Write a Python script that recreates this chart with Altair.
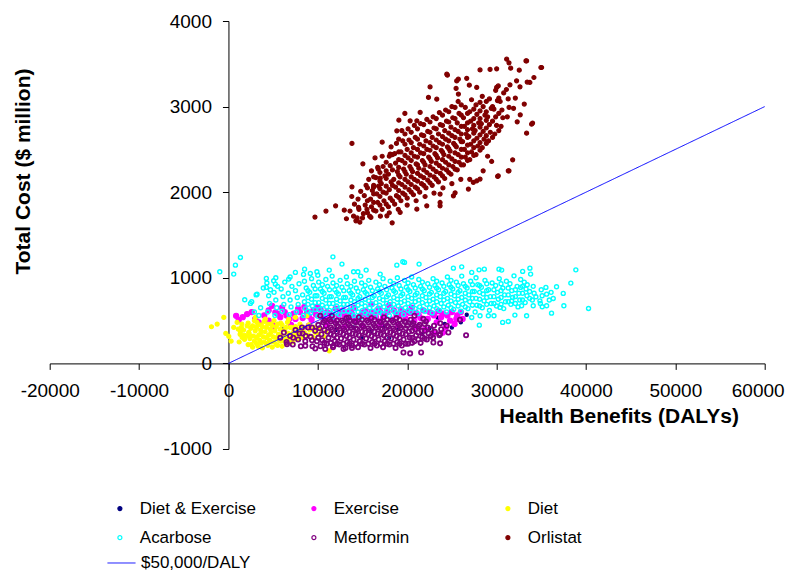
import altair as alt
import pandas as pd

FONT = "Liberation Sans"

SERIES = ["Diet & Exercise", "Exercise", "Diet", "Acarbose", "Metformin", "Orlistat"]
STROKES = ["#000080", "#FF00FF", "#FFFF00", "#00FFFF", "#800080", "#800000"]
FILLS = ["#000080", "#FF00FF", "#FFFF00", "transparent", "transparent", "#800000"]
SIZES = [10, 26, 16, 16, 18, 16]
STROKE_WIDTHS = [1.2, 1.2, 1.2, 1.4, 1.8, 1.2]

X_TICKS = [-20000, -10000, 0, 10000, 20000, 30000, 40000, 50000, 60000]
Y_TICKS = [-1000, 0, 1000, 2000, 3000, 4000]

LINE_LABEL = "$50,000/DALY"
LINE_X = [0, 60000]
LINE_Y = [0, 3000]

DIET_EXERCISE = [
    (6000, 400), (8000, 380), (10000, 410), (12000, 390), (14000, 420), (16000, 380),
    (17500, 430), (19000, 400), (20500, 480), (21630, 342), (22500, 410), (23420, 533),
    (24200, 460), (25000, 420), (26000, 480), (26660, 568), (18000, 300), (15000, 300),
]

EXERCISE = [
    (860, 556), (1150, 509), (2090, 576), (4880, 673), (5250, 596), (3390, 479), (1600, 540),
    (2600, 600), (3000, 520), (4000, 560), (4500, 620), (5800, 540), (6300, 600), (6800, 520),
    (7300, 580), (7800, 640), (8300, 530), (8800, 590), (9300, 510), (9800, 570), (10300, 630),
    (10800, 520), (11300, 580), (11800, 500), (12300, 560), (12800, 620), (13300, 520),
    (13800, 580), (14300, 500), (14800, 560), (15300, 610), (15800, 520), (16300, 580),
    (16800, 640), (17300, 540), (17800, 600), (18300, 510), (18800, 570), (19300, 630),
    (19800, 530), (20300, 590), (20800, 500), (21300, 560), (21800, 620), (22300, 520),
    (22800, 580), (23300, 480), (23800, 540), (24300, 420), (24800, 500), (25300, 460),
    (22000, 400), (23000, 350), (24000, 360), (21000, 420), (19000, 450), (17000, 460),
    (15000, 440), (13000, 430), (11000, 450), (9000, 440), (7000, 450), (5000, 440),
    (25600, 560), (26200, 520), (6000, 650), (10000, 660), (12000, 640), (14000, 650),
    (18000, 680), (20500, 650), (16000, 690), (8500, 660),
    (4500, 500), (5500, 580), (6500, 560), (7500, 520), (8000, 600), (9000, 550), (9500, 620),
    (10500, 560), (11000, 600), (11500, 530), (12500, 600), (13000, 560), (13500, 610),
    (14000, 540), (15000, 590), (15500, 560), (16000, 600), (16500, 540), (17000, 600),
    (17500, 570), (18500, 620), (19000, 560), (19500, 580), (20000, 600), (21000, 590),
    (21500, 530), (22500, 600), (23000, 560), (23500, 610), (24000, 580), (24500, 560),
    (25000, 600), (25500, 520), (26000, 600),
]

DIET = [
    (-1900, 428), (-1260, 459), (-520, 537), (40, 315), (590, 420), (970, 479), (1530, 304),
    (1340, 369), (2090, 439), (2270, 362), (3020, 537), (3200, 479), (4130, 517), (6740, 517),
    (7490, 537), (8790, 556), (11280, 147), (-300, 350), (300, 260),
    (1100, 400), (1300, 340), (1500, 460), (1700, 390), (1800, 280), (1200, 250),
    (2200, 220), (2400, 290), (2300, 350), (2500, 410), (2200, 470),
    (2700, 190), (2900, 260), (2800, 320), (3000, 380), (2700, 440), (2900, 500),
    (3300, 200), (3500, 270), (3400, 330), (3600, 390), (3300, 450),
    (3800, 180), (4000, 250), (3900, 310), (4100, 370), (3800, 430), (4000, 490),
    (4400, 210), (4600, 270), (4500, 330), (4700, 400), (4400, 460),
    (4900, 190), (5100, 250), (5000, 310), (5200, 380), (4900, 440), (5100, 500),
    (5500, 210), (5700, 270), (5600, 340), (5800, 400), (5500, 460),
    (6000, 200), (6200, 260), (6100, 320), (6300, 390), (6000, 450),
    (6600, 230), (6800, 290), (6700, 350), (6900, 420), (6600, 480),
    (7200, 250), (7400, 310), (7300, 370), (7500, 430),
    (7700, 280), (7900, 340), (7800, 400), (8000, 460),
    (8300, 300), (8500, 360), (8400, 420), (8900, 330), (9100, 390), (9000, 450),
    (9500, 300), (9700, 360), (9600, 420), (10100, 340), (10300, 400), (10700, 310), (10900, 370),
    (2550, 320), (3150, 300), (3650, 360), (4250, 300), (4750, 360), (5350, 300), (5850, 330),
    (6450, 300), (7050, 340), (2550, 420), (3650, 240), (4750, 250), (5850, 260), (3150, 420),
    (4250, 420), (5350, 430), (6450, 420),
    (2550, 220), (3150, 230), (4250, 230), (5350, 220), (3650, 450), (4750, 460), (5850, 470),
    (6450, 240), (7050, 260), (7050, 420), (7650, 340), (8150, 380), (2050, 320), (1750, 330),
    (1450, 420),
]

ACARBOSE = [
    (-970, 1070), (590, 1043), (780, 1148), (1340, 1238), (11690, 1245), (1820, 743), (2460, 701),
    (3200, 809), (4240, 993), (5060, 965), (5250, 926), (4240, 888), (6740, 985), (7490, 1063),
    (8520, 1101), (9160, 1051), (9900, 1070), (11280, 1090), (12700, 1160), (14000, 1070),
    (14480, 1070), (15410, 1090), (16980, 1043), (18840, 1148), (19700, 1180), (19510, 1187),
    (21330, 1160), (25170, 1113), (26100, 1128), (27220, 1063), (28040, 1093), (28630, 1101),
    (30270, 1101), (30570, 1090), (31950, 1023), (32920, 1075), (33730, 1113), (33810, 1043),
    (38870, 1093), (38310, 938), (36710, 895), (37460, 818), (40290, 642), (37530, 673),
    (36340, 759), (36150, 587), (35600, 673), (35110, 661), (34400, 778), (35600, 809),
    (35520, 888), (33430, 918), (32690, 888), (33360, 556), (32800, 673), (32050, 564),
    (31310, 490), (30680, 479), (28070, 447), (29710, 556), (29080, 556), (28150, 556),
    (27220, 537), (31690, 731), (34100, 673), (34850, 731), (30380, 654),
    (2600, 720), (3100, 800), (3600, 650), (3900, 880), (2900, 600), (3400, 560),
    (4400, 600), (4600, 700), (4500, 790), (4700, 860), (4300, 940),
    (5200, 560), (5400, 650), (5300, 740), (5100, 830), (5500, 900), (5300, 1000),
    (6000, 610), (6200, 690), (6100, 780), (5900, 870), (6300, 950),
    (6800, 570), (7000, 660), (6900, 740), (6700, 820), (7100, 900), (6900, 1010),
    (7600, 600), (7800, 690), (7700, 770), (7500, 850), (7900, 930),
    (8400, 560), (8600, 640), (8500, 720), (8300, 800), (8700, 880), (8500, 960), (8400, 1040),
    (9200, 590), (9400, 670), (9300, 750), (9100, 830), (9500, 910), (9300, 990),
    (10000, 550), (10200, 630), (10100, 710), (9900, 790), (10300, 870), (10100, 950), (10000, 1030),
    (10800, 580), (11000, 660), (10900, 740), (10700, 820), (11100, 900), (10900, 980),
    (11600, 540), (11800, 620), (11700, 700), (11500, 780), (11900, 860), (11700, 940), (11600, 1020),
    (12400, 570), (12600, 650), (12500, 730), (12300, 810), (12700, 890), (12500, 970),
    (13200, 530), (13400, 610), (13300, 690), (13100, 770), (13500, 850), (13300, 930), (13200, 1010),
    (14000, 560), (14200, 640), (14100, 720), (13900, 800), (14300, 880), (14100, 960),
    (14800, 540), (15000, 620), (14900, 700), (14700, 780), (15100, 860), (14900, 940), (14800, 1020),
    (15600, 570), (15800, 650), (15700, 730), (15500, 810), (15900, 890), (15700, 970),
    (16400, 550), (16600, 630), (16500, 710), (16300, 790), (16700, 870), (16500, 950),
    (17200, 580), (17400, 660), (17300, 740), (17100, 820), (17500, 900), (17300, 990),
    (18000, 560), (18200, 640), (18100, 720), (17900, 800), (18300, 880), (18100, 960),
    (18800, 590), (19000, 670), (18900, 750), (18700, 830), (19100, 910), (18900, 1000),
    (19600, 570), (19800, 650), (19700, 730), (19500, 810), (19900, 890), (19700, 970),
    (20400, 600), (20600, 680), (20500, 760), (20300, 840), (20700, 920), (20500, 1010),
    (21200, 580), (21400, 660), (21300, 740), (21100, 820), (21500, 900), (21300, 980),
    (22000, 610), (22200, 690), (22100, 770), (21900, 850), (22300, 930),
    (22800, 590), (23000, 670), (22900, 750), (22700, 830), (23100, 910), (22900, 990),
    (23600, 620), (23800, 700), (23700, 780), (23500, 860), (23900, 940),
    (24400, 600), (24600, 680), (24500, 760), (24300, 840), (24700, 920), (24500, 1010),
    (25200, 630), (25400, 710), (25300, 790), (25100, 870), (25500, 950),
    (26000, 610), (26200, 690), (26100, 770), (25900, 850), (26300, 930), (26100, 1020),
    (26800, 640), (27000, 720), (26900, 800), (26700, 880), (27100, 960),
    (27600, 600), (27800, 680), (27700, 760), (27500, 840), (27900, 920), (27700, 1000),
    (28400, 650), (28600, 730), (28500, 810), (28300, 890), (28700, 970),
    (29200, 620), (29400, 700), (29300, 780), (29100, 860), (29500, 940),
    (30000, 670), (30200, 750), (30100, 830), (29900, 910), (30300, 990),
    (30800, 640), (31000, 720), (30900, 800), (30700, 880), (31100, 960),
    (31600, 690), (31800, 770), (31700, 850), (31500, 930),
    (32400, 660), (32600, 740), (32500, 820), (32300, 900), (32700, 980),
    (33200, 710), (33400, 790), (33300, 870), (33100, 950),
    (34000, 740), (34200, 820), (34100, 900), (34900, 700), (35100, 790), (35000, 860),
    (35900, 740), (36100, 830),
    (8900, 610), (8900, 690), (8900, 770), (8900, 850), (9700, 630), (9700, 710), (9700, 790), (9700, 870),
    (10500, 600), (10500, 680), (10500, 760), (10500, 840), (10500, 920), (11300, 620), (11300, 700),
    (11300, 780), (11300, 860), (12100, 590), (12100, 670), (12100, 750), (12100, 830), (12100, 910),
    (12900, 610), (12900, 690), (12900, 770), (12900, 850), (13700, 580), (13700, 660), (13700, 740),
    (13700, 820), (13700, 900), (14500, 600), (14500, 680), (14500, 760), (14500, 840),
    (15300, 590), (15300, 670), (15300, 750), (15300, 830), (15300, 910), (16100, 610), (16100, 690),
    (16100, 770), (16100, 850), (16900, 600), (16900, 680), (16900, 760), (16900, 840), (16900, 920),
    (17700, 620), (17700, 700), (17700, 780), (17700, 860), (18500, 610), (18500, 690), (18500, 770),
    (18500, 850), (18500, 930), (19300, 630), (19300, 710), (19300, 790), (19300, 870),
    (20100, 620), (20100, 700), (20100, 780), (20100, 860), (20100, 940), (20900, 640), (20900, 720),
    (20900, 800), (20900, 880), (21700, 630), (21700, 710), (21700, 790), (21700, 870), (21700, 950),
    (22500, 650), (22500, 730), (22500, 810), (22500, 890), (23300, 640), (23300, 720), (23300, 800),
    (23300, 880), (23300, 960), (24100, 660), (24100, 740), (24100, 820), (24100, 900),
    (24900, 650), (24900, 730), (24900, 810), (24900, 890), (24900, 970), (25700, 670), (25700, 750),
    (25700, 830), (25700, 910), (26500, 660), (26500, 740), (26500, 820), (26500, 900),
    (27300, 680), (27300, 760), (27300, 840), (27300, 920), (28100, 670), (28100, 750), (28100, 830),
    (28100, 910), (28900, 690), (28900, 770), (28900, 850), (28900, 930), (29700, 700), (29700, 780),
    (29700, 860), (30500, 690), (30500, 770), (30500, 850), (30500, 930), (31300, 720), (31300, 800),
    (31300, 880), (32100, 700), (32100, 780), (32100, 860), (32900, 740), (32900, 820), (32900, 900),
    (33700, 760), (33700, 840),
]

METFORMIN = [
    (5800, 300), (6200, 360), (6500, 250), (6900, 320), (7200, 220), (7500, 390), (7800, 280),
    (8100, 200), (8300, 350), (8600, 260), (8900, 420), (9200, 310), (9400, 200), (9700, 380),
    (9900, 260),
    (10300, 200), (10500, 270), (10400, 340), (10200, 410), (10600, 480),
    (11000, 230), (11200, 300), (11100, 370), (10900, 440), (11300, 510),
    (11700, 190), (11900, 260), (11800, 330), (11600, 400), (12000, 470),
    (12400, 220), (12600, 290), (12500, 360), (12300, 430), (12700, 500),
    (13100, 180), (13300, 250), (13200, 320), (13000, 390), (13400, 460), (13200, 530),
    (13800, 210), (14000, 280), (13900, 350), (13700, 420), (14100, 490),
    (14500, 190), (14700, 260), (14600, 330), (14400, 400), (14800, 470), (14600, 540),
    (15200, 220), (15400, 290), (15300, 360), (15100, 430), (15500, 500),
    (15900, 180), (16100, 250), (16000, 320), (15800, 390), (16200, 460), (16000, 530),
    (16600, 210), (16800, 280), (16700, 350), (16500, 420), (16900, 490),
    (17300, 190), (17500, 260), (17400, 330), (17200, 400), (17600, 470), (17400, 540),
    (18000, 220), (18200, 290), (18100, 360), (17900, 430), (18300, 500),
    (18700, 180), (18900, 250), (18800, 320), (18600, 390), (19000, 460), (18800, 530),
    (19400, 210), (19600, 280), (19500, 350), (19300, 420), (19700, 490),
    (20100, 230), (20300, 300), (20200, 370), (20000, 440), (20400, 510),
    (20800, 260), (21000, 330), (20900, 400), (20700, 470),
    (21500, 240), (21700, 310), (21600, 380), (21400, 450), (21800, 520),
    (22200, 280), (22400, 350), (22300, 420), (22100, 490),
    (22900, 300), (23100, 370), (23000, 440), (23600, 330), (23800, 400), (23700, 470),
    (11450, 340), (12150, 300), (12850, 340), (13550, 300), (14250, 340), (14950, 300),
    (15650, 340), (16350, 300), (17050, 340), (17750, 300), (18450, 340), (19150, 300),
    (19850, 340), (20550, 300), (12150, 440), (13550, 440), (14950, 440), (16350, 440),
    (17750, 440), (19150, 440),
    (6550, 225), (8230, 420), (10280, 556), (11580, 556), (13440, 537), (20810, 556),
    (19580, 128), (20330, 117), (21560, 128), (22930, 245), (23680, 234), (24610, 362),
    (24430, 439), (25910, 509), (26590, 330), (23680, 342), (9720, 175), (10830, 167),
    (12880, 167), (13820, 179), (11760, 206), (8600, 206),
    (10750, 240), (10750, 390), (10750, 500), (11450, 240), (11450, 420), (11450, 490),
    (12150, 230), (12150, 370), (12150, 500), (12850, 230), (12850, 410), (12850, 480),
    (13550, 230), (13550, 370), (13550, 500), (14250, 230), (14250, 410), (14250, 480),
    (14950, 230), (14950, 370), (14950, 510), (15650, 230), (15650, 410), (15650, 480),
    (16350, 230), (16350, 370), (16350, 510), (17050, 230), (17050, 410), (17050, 480),
    (17750, 230), (17750, 370), (17750, 510), (18450, 230), (18450, 410), (18450, 480),
    (19150, 230), (19150, 370), (19150, 510), (19850, 230), (19850, 410), (19850, 480),
    (20550, 240), (20550, 380), (20550, 450), (21250, 280), (21250, 360), (21250, 430),
    (21950, 290), (21950, 380), (21950, 460), (22650, 320), (22650, 400),
    (10050, 300), (10050, 450), (9350, 270), (9350, 420), (8650, 320), (7950, 350), (7250, 300),
]

ORLISTAT = [
    (9680, 1709), (10910, 1779), (11990, 1841), (12960, 1790), (13820, 2570), (15040, 2331),
    (13820, 2063), (14260, 1666), (14560, 1822), (15940, 1705), (17200, 2585), (18840, 2717),
    (19070, 2842), (19740, 2920), (22560, 3230), (16760, 2270), (18320, 1642), (16980, 2164),
    (16230, 2056), (18100, 2445),
    (33290, 3534), (34960, 3457), (31130, 3554), (31390, 3511), (24500, 3367), (28150, 3429),
    (29270, 3434), (30010, 3441), (31580, 3449), (32540, 3426), (34180, 3340), (33430, 3286),
    (34030, 2807), (33360, 2690), (31800, 2378), (31390, 2250), (30120, 2184), (32650, 2904),
    (32310, 2822), (33100, 3029), (25470, 3212), (26950, 3250), (25720, 3321), (27780, 3224),
    (30190, 3242), (31500, 3254), (32620, 3231), (23680, 1978), (25360, 1993), (26850, 2036),
    (27780, 2133), (29450, 2359), (23680, 1880),
    (25540, 3300), (26660, 3330), (24430, 3379), (25730, 3146), (23310, 3087), (22380, 3107),
    (21450, 2932), (20330, 2834), (21080, 2834), (33360, 3534), (35040, 3457), (30010, 3224),
    (32240, 3301), (33730, 3282), (33920, 2795), (31310, 2250), (30190, 2191),
    (27400, 2114), (28150, 2153), (25170, 1958), (23680, 1841), (22190, 1841), (21080, 1802),
    (19210, 1764), (17730, 1724), (28500, 2250), (27000, 2150), (29000, 2420),
    (20000, 1850), (21000, 1900), (22000, 1950), (23000, 1990), (24000, 2050), (25000, 2100),
    (26000, 2150), (19000, 1800), (18000, 1760), (17000, 1720),
    (13200, 1690), (13600, 1780), (14000, 1720), (14100, 1860), (13800, 1950),
    (14400, 1700), (14600, 1800), (14500, 1920), (14800, 2010), (14700, 1650),
    (15100, 1750), (15300, 1850), (15200, 1960), (15400, 2080), (15000, 1700), (15500, 1800),
    (15800, 1720), (16000, 1830), (15900, 1920), (16100, 2020), (15700, 2150), (16000, 2250),
    (16500, 1780), (16700, 1880), (16600, 1980), (16800, 2070), (16500, 2170), (16700, 2290), (16400, 2400),
    (17200, 1800), (17400, 1900), (17300, 2000), (17100, 2100), (17500, 2190), (17300, 2300), (17200, 2420),
    (17900, 1830), (18100, 1930), (18000, 2030), (18200, 2120), (17900, 2210), (18100, 2310), (18000, 2420), (18200, 2530),
    (18600, 1860), (18800, 1960), (18700, 2060), (18500, 2150), (18900, 2240), (18700, 2340), (18600, 2450), (18800, 2570),
    (19300, 1900), (19500, 1990), (19400, 2090), (19200, 2180), (19600, 2270), (19400, 2370), (19300, 2470), (19500, 2600), (19400, 2720),
    (20000, 1930), (20200, 2030), (20100, 2120), (19900, 2210), (20300, 2300), (20100, 2400), (20000, 2500), (20200, 2610), (20100, 2740),
    (20700, 1970), (20900, 2060), (20800, 2150), (20600, 2240), (21000, 2330), (20800, 2420), (20700, 2520), (20900, 2640), (20800, 2780),
    (21400, 2000), (21600, 2100), (21500, 2190), (21300, 2280), (21700, 2370), (21500, 2460), (21400, 2560), (21600, 2670), (21500, 2800),
    (22100, 2050), (22300, 2140), (22200, 2230), (22000, 2320), (22400, 2410), (22200, 2500), (22100, 2600), (22300, 2710), (22200, 2850),
    (22800, 2080), (23000, 2180), (22900, 2270), (22700, 2360), (23100, 2450), (22900, 2540), (22800, 2640), (23000, 2750), (22900, 2880),
    (23500, 2120), (23700, 2220), (23600, 2310), (23400, 2400), (23800, 2490), (23600, 2580), (23500, 2680), (23700, 2790), (23600, 2930),
    (24200, 2160), (24400, 2260), (24300, 2350), (24100, 2440), (24500, 2530), (24300, 2620), (24200, 2720), (24400, 2830), (24300, 2960),
    (24900, 2210), (25100, 2300), (25000, 2390), (24800, 2480), (25200, 2570), (25000, 2660), (24900, 2760), (25100, 2870), (25000, 3000),
    (25600, 2260), (25800, 2350), (25700, 2440), (25500, 2530), (25900, 2620), (25700, 2710), (25600, 2810), (25800, 2920), (25700, 3060),
    (26300, 2320), (26500, 2410), (26400, 2500), (26200, 2590), (26600, 2680), (26400, 2770), (26300, 2870), (26500, 2990),
    (27000, 2380), (27200, 2470), (27100, 2560), (26900, 2650), (27300, 2740), (27100, 2830), (27000, 2940), (27200, 3080),
    (27700, 2440), (27900, 2540), (27800, 2630), (27600, 2720), (28000, 2810), (27800, 2910), (27700, 3020),
    (28400, 2520), (28600, 2620), (28500, 2710), (28300, 2800), (28700, 2900), (28500, 3000), (28400, 3120),
    (29100, 2600), (29300, 2700), (29200, 2790), (29000, 2880), (29400, 2980), (29200, 3090),
    (29800, 2680), (30000, 2780), (29900, 2880), (29700, 2970), (30100, 3070), (29900, 3190),
    (30500, 2770), (30700, 2870), (30600, 2960), (30400, 3060), (30800, 3160),
    (31200, 2880), (31400, 2990), (31300, 3090), (31100, 3200), (31900, 2980), (32100, 3100),
    (19050, 2020), (19050, 2200), (19050, 2380), (19750, 2060), (19750, 2240), (19750, 2430), (19750, 2560),
    (20450, 2090), (20450, 2270), (20450, 2460), (20450, 2580), (21150, 2130), (21150, 2320), (21150, 2500), (21150, 2620),
    (21850, 2170), (21850, 2350), (21850, 2540), (21850, 2660), (22550, 2200), (22550, 2390), (22550, 2580), (22550, 2700),
    (23250, 2240), (23250, 2430), (23250, 2610), (23250, 2740), (23950, 2280), (23950, 2470), (23950, 2650), (23950, 2780),
    (24650, 2320), (24650, 2510), (24650, 2690), (24650, 2820), (25350, 2360), (25350, 2550), (25350, 2730), (25350, 2860),
    (26050, 2410), (26050, 2590), (26050, 2770), (26050, 2900), (26750, 2460), (26750, 2640), (26750, 2810),
    (27450, 2520), (27450, 2690), (27450, 2860), (28150, 2580), (28150, 2760), (28150, 2950),
    (28850, 2660), (28850, 2840), (17650, 1990), (17650, 2160), (17650, 2350), (16950, 1950), (16950, 2130),
    (16250, 1880), (16250, 2080),
    (19050, 1940), (19050, 2110), (19050, 2290), (19050, 2470), (19050, 2620),
    (19750, 1970), (19750, 2150), (19750, 2340), (19750, 2680),
    (20450, 2000), (20450, 2180), (20450, 2370), (20450, 2700),
    (21150, 2040), (21150, 2220), (21150, 2410), (21150, 2740),
    (21850, 2080), (21850, 2260), (21850, 2450), (21850, 2790),
    (22550, 2110), (22550, 2300), (22550, 2490), (22550, 2820),
    (23250, 2150), (23250, 2340), (23250, 2520), (23250, 2860),
    (23950, 2190), (23950, 2380), (23950, 2560), (23950, 2900),
    (24650, 2230), (24650, 2420), (24650, 2600), (24650, 2940),
    (25350, 2270), (25350, 2460), (25350, 2640), (25350, 2990),
    (26050, 2320), (26050, 2500), (26050, 2680), (26050, 3020),
    (26750, 2370), (26750, 2550), (26750, 2730), (26750, 2920),
    (27450, 2430), (27450, 2600), (27450, 2780), (27450, 2970),
    (28150, 2490), (28150, 2670), (28150, 2860), (28150, 3050),
    (28850, 2570), (28850, 2750), (28850, 2940), (28850, 3060),
    (29550, 2640), (29550, 2830), (29550, 3000), (30250, 2720), (30250, 2920), (30250, 3100),
    (18350, 1900), (18350, 2080), (18350, 2260), (18350, 2440), (17650, 1860), (17650, 2070),
    (17650, 2250), (16950, 1850), (16950, 2040), (16950, 2230), (16250, 1790), (16250, 1980),
    (16250, 2180), (15550, 1760), (15550, 1900), (15550, 2050),
]

SERIES_POINTS = [DIET_EXERCISE, EXERCISE, DIET, ACARBOSE, METFORMIN, ORLISTAT]

line_df = pd.DataFrame({"dalys": LINE_X, "cost": LINE_Y, "label": [LINE_LABEL] * len(LINE_X)})

# layout (pixels)
W, H = 715, 428
X_DOMAIN = [X_TICKS[0], X_TICKS[-1]]
Y_DOMAIN = [Y_TICKS[0], Y_TICKS[-1]]
y_axis_offset = -W * (0 - X_DOMAIN[0]) / (X_DOMAIN[1] - X_DOMAIN[0])
x_axis_offset = -H * (0 - Y_DOMAIN[0]) / (Y_DOMAIN[1] - Y_DOMAIN[0])

x_scale = alt.Scale(domain=X_DOMAIN, nice=False, zero=False)
y_scale = alt.Scale(domain=Y_DOMAIN, nice=False, zero=False)

x_axis = alt.Axis(
    title="Health Benefits (DALYs)", values=X_TICKS, offset=x_axis_offset,
    labelExpr="datum.value + ''", labelPadding=12, labelFlush=False,
    labelOffset={"condition": {"test": f"datum.value == {X_TICKS[-1]}", "value": -7}, "value": 0},
    titleX=569, titleY=59, titleBaseline="alphabetic", titleAlign="center",
)
y_axis = alt.Axis(
    title="Total Cost ($ million)", values=Y_TICKS, offset=y_axis_offset,
    labelExpr="datum.value + ''", labelPadding=11,
    titleX=-199, titleY=150, titleAngle=270, titleBaseline="alphabetic", titleAlign="center",
)

pt_legend = alt.Legend(
    title=None, orient="none", legendX=61.7, legendY=478.8, columns=3, direction="horizontal",
    symbolType="circle", symbolSize=16, symbolStrokeWidth=1.2,
    labelFont=FONT, labelFontSize=17, labelColor="black", labelOffset=11.4,
    columnPadding=49, rowPadding=11.4, padding=0, gridAlign="all",
)
line_legend = alt.Legend(
    title=None, orient="none", legendX=57.3, legendY=527.5,
    symbolType="stroke", symbolSize=784, symbolStrokeColor="#0000FF", symbolStrokeWidth=1,
    labelFont=FONT, labelFontSize=17, labelColor="black", labelOffset=5, padding=0,
)

fill_scale = alt.Scale(domain=SERIES, range=FILLS)
stroke_scale = alt.Scale(domain=SERIES, range=STROKES)

layers = []
for name, pts, size, sw in zip(SERIES, SERIES_POINTS, SIZES, STROKE_WIDTHS):
    df = pd.DataFrame({"series": [name] * len(pts),
                       "dalys": [p[0] for p in pts],
                       "cost": [p[1] for p in pts]})
    layers.append(
        alt.Chart(df).mark_point(shape="circle", opacity=1, strokeWidth=sw, size=size).encode(
            x=alt.X("dalys:Q", scale=x_scale, axis=x_axis),
            y=alt.Y("cost:Q", scale=y_scale, axis=y_axis),
            fill=alt.Fill("series:N", scale=fill_scale, legend=pt_legend),
            stroke=alt.Stroke("series:N", scale=stroke_scale, legend=pt_legend),
        )
    )

line = alt.Chart(line_df).mark_line(color="#0000FF", strokeWidth=1).encode(
    x=alt.X("dalys:Q", scale=x_scale, axis=x_axis),
    y=alt.Y("cost:Q", scale=y_scale, axis=y_axis),
    strokeDash=alt.StrokeDash("label:N", scale=alt.Scale(domain=[LINE_LABEL], range=[[1, 0]]), legend=line_legend),
)

chart = alt.layer(*layers, line).properties(
    width=W, height=H,
    autosize=alt.AutoSizeParams(type="none"),
    padding={"left": 41.7, "top": 13, "right": 21, "bottom": 140},
).configure_axis(
    labelFont=FONT, labelFontSize=19, labelColor="black",
    titleFont=FONT, titleFontSize=21, titleFontWeight="bold", titleColor="black",
    domainColor="black", tickColor="black", tickSize=6, domainWidth=1, tickWidth=1,
    grid=False, labelOverlap=False,
).configure_view(stroke=None)

chart.save("out.html", embed_options={"renderer": "svg", "actions": False})
